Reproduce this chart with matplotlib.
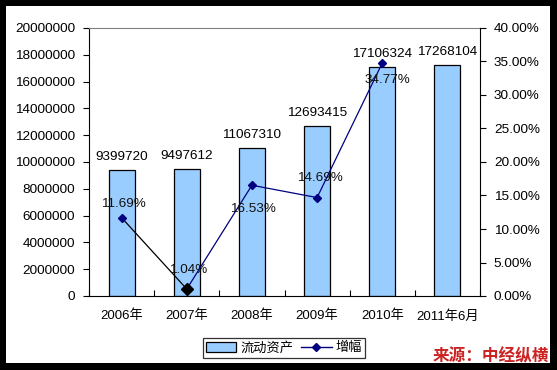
import matplotlib
matplotlib.use("Agg")
import matplotlib.pyplot as plt
from matplotlib.patches import Rectangle
from matplotlib.lines import Line2D
from matplotlib.ticker import FuncFormatter, MultipleLocator
import numpy as np

categories = ["2006年", "2007年", "2008年", "2009年", "2010年", "2011年6月"]
assets = [9399720, 9497612, 11067310, 12693415, 17106324, 17268104]
growth = [11.69, 1.04, 16.53, 14.69, 34.77]
growth_labels = ["11.69%", "1.04%", "16.53%", "14.69%", "34.77%"]
# label offsets (points) relative to each growth point
growth_offsets = [(1, 10), (1, 14), (1, -17), (2, 14), (4, -12)]

plt.rcParams['font.family'] = ['Liberation Sans', 'Noto Sans CJK SC']

W, H = 557, 370
fig = plt.figure(figsize=(W / 100, H / 100), dpi=100, facecolor='black')
fig.patches.append(Rectangle((6 / W, (H - 363) / H), 544 / W, 357 / H,
                             transform=fig.transFigure, facecolor='white',
                             edgecolor='none', zorder=-5))

ax = fig.add_axes([89 / W, (H - 296) / H, 391 / W, 268 / H])
ax.set_facecolor('white')
x = np.arange(len(categories))
ax.bar(x, assets, width=0.4, color='#99CCFF', edgecolor='black', linewidth=0.9, zorder=2)
ax.set_xlim(-0.5, len(categories) - 0.5)
ax.set_ylim(0, 20000000)
ax.yaxis.set_major_locator(MultipleLocator(2000000))
ax.yaxis.set_major_formatter(FuncFormatter(lambda v, p: f"{int(v)}"))
ax.tick_params(axis='y', direction='out', length=4, width=0.8, labelsize=9.7, pad=6, colors='black')
ax.set_xticks(x)
ax.set_xticklabels(categories, fontsize=9.5, family=['Liberation Sans', 'Noto Sans CJK SC'])
ax.tick_params(axis='x', length=0, pad=10)
ax.set_xticks(np.arange(len(categories) + 1) - 0.5, minor=True)
ax.tick_params(axis='x', which='minor', direction='in', length=4, width=0.8)
for s in ['left', 'bottom']:
    ax.spines[s].set_color('black')
ax.spines['top'].set_color('#808080')
ax.spines['right'].set_visible(False)

for xi, v in zip(x, assets):
    ax.annotate(f"{v}", (xi, v), xytext=(0, 5), textcoords='offset points',
                ha='center', va='bottom', fontsize=9.7, color='black')

ax2 = ax.twinx()
ax2.set_ylim(0, 40)
ax2.yaxis.set_major_locator(MultipleLocator(5))
ax2.yaxis.set_major_formatter(FuncFormatter(lambda v, p: f"{v:.2f}%"))
ax2.tick_params(axis='y', direction='out', length=4, width=0.8, labelsize=9.7, pad=6)
ax2.spines['right'].set_color('black')
ax2.spines['top'].set_visible(False)
ax2.spines['left'].set_visible(False)
ax2.spines['bottom'].set_visible(False)

gx = x[:len(growth)]
ax2.plot(gx[:2], growth[:2], color='black', linewidth=0.9, zorder=3)
ax2.plot(gx[1:], growth[1:], color='#000080', linewidth=0.9, zorder=3)
ax2.plot(gx, growth, linestyle='none', marker='D', markersize=4.5, color='#000080', zorder=4)
ax2.plot([gx[1]], [growth[1]], linestyle='none', marker='D', markersize=6.5, color='black', zorder=5)
for xi, v, lab, off in zip(gx, growth, growth_labels, growth_offsets):
    ax2.annotate(lab, (xi, v), xytext=off, textcoords='offset points',
                 ha='center', va='center', fontsize=9.7, color='#111111', zorder=6)

handles = [Rectangle((0, 0), 1, 1, facecolor='#99CCFF', edgecolor='black', linewidth=0.9),
           Line2D([], [], color='#000080', marker='D', markersize=4, linewidth=1)]
leg = fig.legend(handles, ["流动资产", "增幅"], loc='center',
                 bbox_to_anchor=(284 / W, (H - 348) / H), ncol=2, frameon=True,
                 fancybox=False, edgecolor='black',
                 prop={'family': ['Noto Sans CJK SC'], 'size': 9.5},
                 handlelength=2.3, handletextpad=0.3, columnspacing=0.6,
                 borderpad=0.25, borderaxespad=0)
leg.get_frame().set_linewidth(0.9)

fig.text(491 / W, (H - 356) / H, "来源：中经纵横", ha='center', va='center',
         fontsize=12, fontweight='bold', color='#CC2222',
         family=['Noto Sans CJK SC'])

fig.savefig("out.png", dpi=100, facecolor='black')
